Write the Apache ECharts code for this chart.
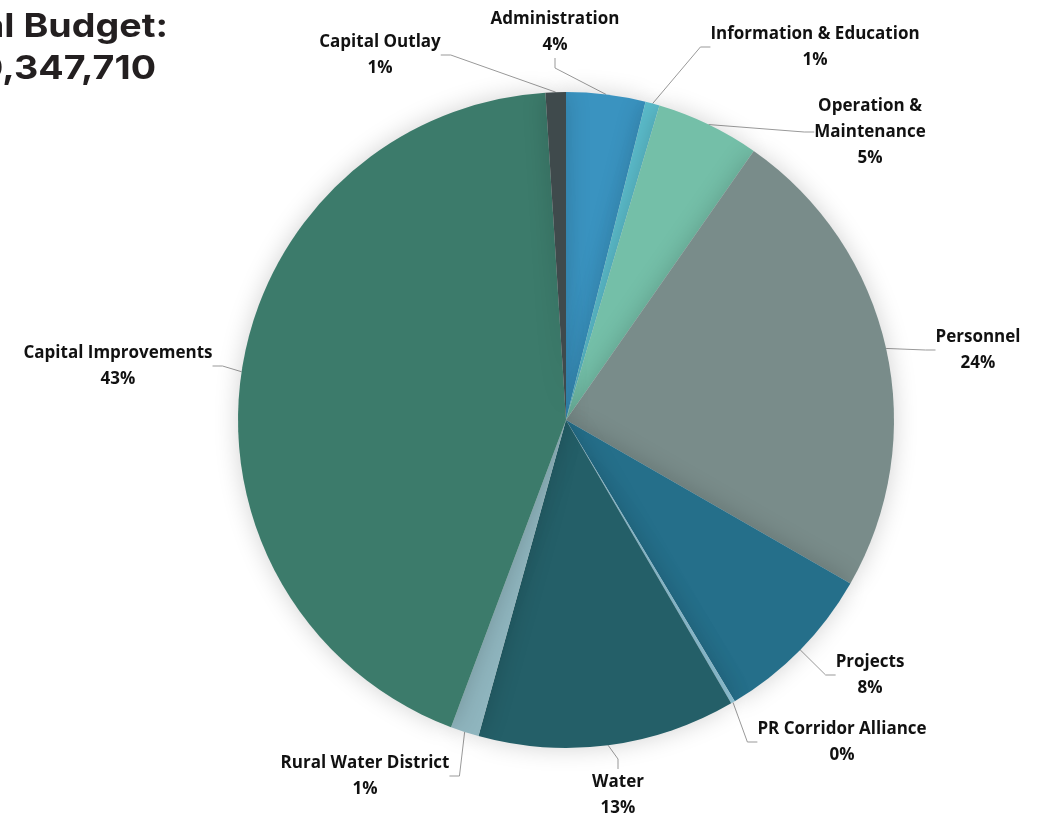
<!DOCTYPE html>
<html><head><meta charset="utf-8">
<script src="https://cdn.jsdelivr.net/npm/echarts@6/dist/echarts.min.js"></script>
<style>html,body{margin:0;padding:0;background:#fff;}#c{width:1037px;height:815px;}</style>
</head><body><div id="c"></div>
<script>
const categories = ['Administration','Information & Education','Operation &\nMaintenance','Personnel','Projects','PR Corridor Alliance','Water','Rural Water District','Capital Improvements','Capital Outlay'];
const shares = [3.9, 0.7, 5.1, 23.6, 8.1, 0.2, 12.7, 1.4, 43.3, 1.0];
const colors = ['#3a93c0','#5bbccb','#74bfa8','#798c8a','#256f8a','#8fc3d6','#245f68','#8fb5be','#3c7b6b','#3f4a4c'];
const labelPos = [[555,32],[815,47],[870,132],[978,350],[870,675],[842,742],[618,795],[365,776],[118,366],[380,55]];

const chart = echarts.init(document.getElementById('c'));
chart.setOption({
  animation: false,
  graphic: [
    {type:'text', x:168, y:27, scaleX:1.14, style:{text:'Total Budget:', font:'bold 33px Inter, sans-serif', fill:'#231f20', align:'right', verticalAlign:'middle'}},
    {type:'text', x:156, y:69, scaleX:1.14, style:{text:'$10,347,710', font:'bold 33px Inter, sans-serif', fill:'#231f20', align:'right', verticalAlign:'middle'}}
  ],
  series: [{
    type: 'pie',
    center: [566, 420],
    radius: [0, 328],
    startAngle: 90,
    clockwise: true,
    data: categories.map((n,i)=>({name:n, value:shares[i], itemStyle:{color:colors[i]}})),
    itemStyle: {borderWidth:0, shadowBlur:25, shadowColor:'rgba(0,0,0,0.18)'},
    label: {
      show: true,
      formatter: p => p.name + '\n' + Math.round(p.percent) + '%',
      fontFamily: '"Open Sans", sans-serif',
      fontWeight: 'bold',
      fontSize: 17,
      lineHeight: 26,
      color: '#111',
      align: 'center'
    },
    labelLine: {show: true, length: 10, length2: 10, lineStyle:{color:'#999', width:1}},
    labelLayout: function(params){
      const p = labelPos[params.dataIndex];
      return {x:p[0], y:p[1], align:'center', verticalAlign:'middle'};
    }
  }]
});
</script></body></html>
